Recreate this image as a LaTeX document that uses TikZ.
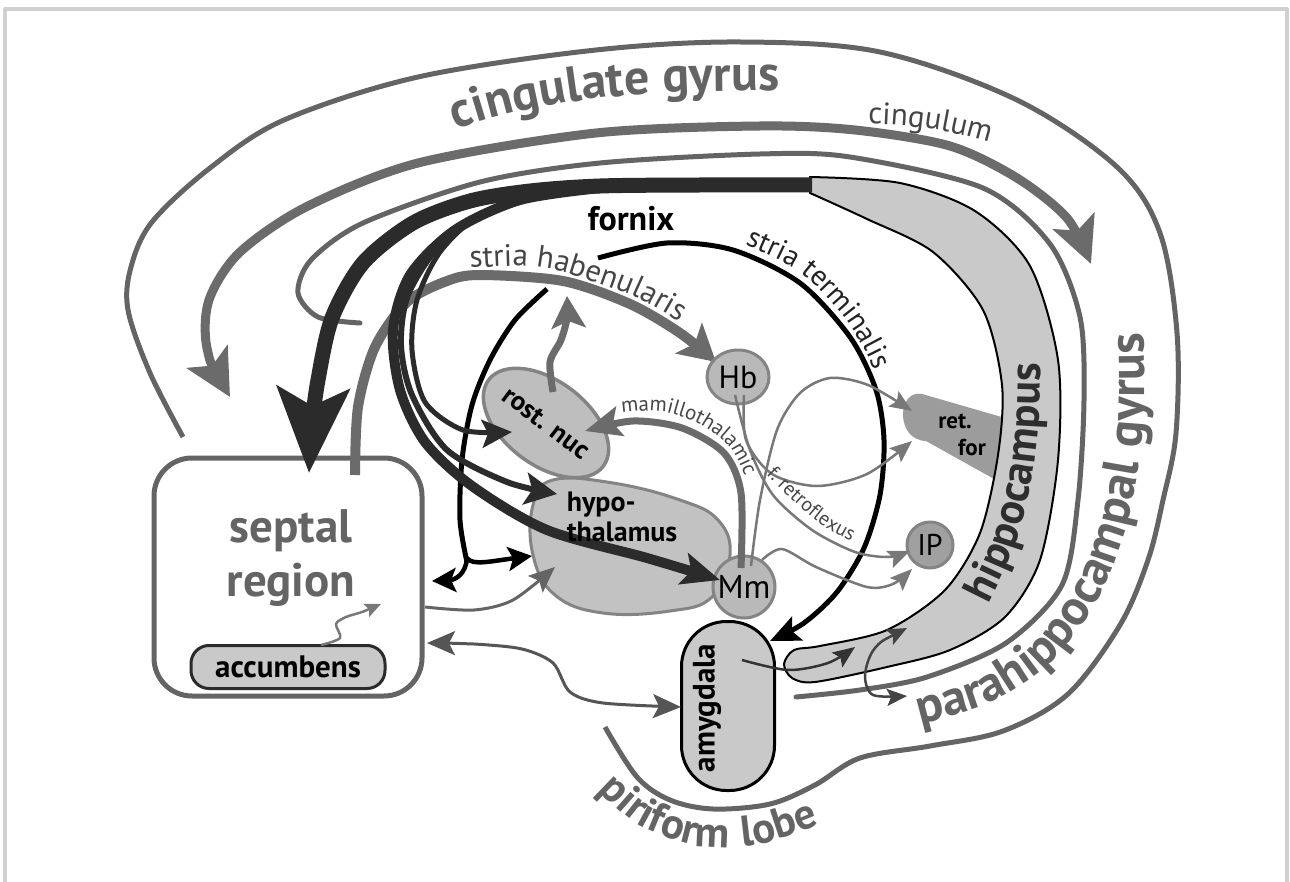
\documentclass[tikz,border=0pt]{standalone}
\usepackage{fontspec}
\setmainfont{PT Sans}
\usetikzlibrary{arrows.meta,decorations.text,shapes.geometric}
\definecolor{cFrame}{HTML}{D0D0D0}
\definecolor{cMid}{HTML}{646464}
\definecolor{cCing}{HTML}{6B6B6B}
\definecolor{cDark}{HTML}{2B2B2B}
\definecolor{cFill}{HTML}{C9C9C9}
\definecolor{cHyp}{HTML}{C2C2C2}
\definecolor{cNode}{HTML}{B9B9B9}
\definecolor{cBord}{HTML}{848484}
\definecolor{cIP}{HTML}{A0A0A0}
\definecolor{cRF}{HTML}{9C9C9C}
\definecolor{cThin}{HTML}{787878}
\definecolor{cTxt}{HTML}{454545}
\definecolor{cRost}{HTML}{BEBEBE}
\definecolor{cHip}{HTML}{2E2E2E}
\definecolor{cTT}{HTML}{222222}
\definecolor{cA}{HTML}{333333}
\definecolor{cB}{HTML}{444444}
\definecolor{cC}{HTML}{555555}
\newcommand{\myfs}[2]{\fontsize{#1}{#2}\selectfont}
\begin{document}
\begin{tikzpicture}[x=1pt,y=-1pt,line join=round,
  thinarrow/.style={draw=cThin, line width=2.5pt, -{Stealth[length=22pt,width=18pt,inset=4pt]}}]
\useasboundingbox (0,0) rectangle (1290,882);
\fill[white] (0,0) rectangle (1290,882);
\draw[cFrame, line width=4pt] (5,890) -- (5,9) -- (1287,9) -- (1287,890);

% outer boundary
\draw[cMid, line width=5pt] plot[smooth, tension=0.55] coordinates {(183,437) (150,373) (128,310) (131,267) (152,222) (210,168) (284,120) (418,77) (596,50) (740,42) (880,52) (1017,100) (1117,167) (1160,233) (1177,333) (1176,433) (1163,500) (1148,560) (1120,625) (1068,694) (1003,731) (930,746) (860,758) (815,785) (770,804) (713,809) (670,800) (637,777) (605,727)};

% cingulum
\draw[cCing, line width=9pt, {Stealth[length=46pt,width=46pt,inset=10pt]}-{Stealth[length=46pt,width=44pt,inset=10pt]}] plot[smooth] coordinates {(230,397) (207,348) (209,300) (239,253) (306,207) (418,163) (596,133) (760,126) (855,130) (950,146) (1017,178) (1067,218) (1091,264)};

% inner gray line
\draw[cMid, line width=5pt, line cap=round] plot[smooth] coordinates {(360,323) (318,317) (298,293) (311,260) (363,223) (480,182) (600,163) (760,154) (850,157) (983,188) (1050,244) (1080,317) (1084,400) (1078,500) (1062,585) (1006,643) (927,677) (860,690) (796,697)};

% ret. for
\fill[cRF] (1012,420) -- (922,394) .. controls (897,389) and (895,440) .. (926,441) -- (1012,489) -- cycle;

% hippocampus band
\draw[fill=cFill, line width=2pt] plot[smooth, tension=0.5] coordinates {(810,177) (900,183) (975,211) (1030,266) (1058,360) (1058,460) (1040,560) (1005,617) (950,650) (887,667) (815,682) (792,678) (784,664) (794,650) (820,646) (887,630) (945,590) (980,533) (998,455) (1002,385) (983,310) (933,252) (867,219) (810,193)} -- cycle;

% big labels along paths
\path[decorate, decoration={text along path, text color=cMid, text={|\bfseries\myfs{50}{50}|cingulate gyrus}}] (456,130) .. controls (560,92) and (690,84) .. (920,96);
\path[decorate, decoration={text along path, text color=cMid, text={|\bfseries\myfs{50}{50}\addfontfeatures{LetterSpace=4}|parahippocampal gyrus}}] plot[smooth] coordinates {(920,724) (992,702) (1052,662) (1095,604) (1120,548) (1134,492) (1143,431) (1143,333) (1128,245) (1100,180) (1060,130)};
\path[decorate, decoration={text along path, text color=cHip, text={|\bfseries\myfs{44}{44}\addfontfeatures{LetterSpace=3}|hippocampus}}] plot[smooth] coordinates {(988,604) (1012,553) (1029,495) (1038,430) (1040,360) (1034,300) (1017,240) (990,200)};
\path[decorate, decoration={text along path, text color=cMid, text={|\bfseries\myfs{43}{43}\addfontfeatures{LetterSpace=6}|piriform lobe}}] plot[smooth] coordinates {(598,790) (640,826) (700,846) (760,844) (820,824) (870,792) (900,760)};
\path[decorate, decoration={text along path, text color=cTxt, text={|\myfs{31}{31}|cingulum}}] (868,124) .. controls (920,125) and (965,132) .. (1030,156);

% septal region
\node[draw=cMid, line width=5pt, rounded corners=38pt, minimum width=268pt, minimum height=238pt, inner sep=0pt] (septal) at (288,577) {};
\node[text=cMid, font=\bfseries\myfs{47}{54}, align=center, inner sep=0pt] (septaltxt) at (291,558) {septal\\region};
\node[draw=cDark, fill=cFill, line width=3pt, rounded corners=18pt, minimum width=194pt, minimum height=43pt, inner sep=0pt, font=\bfseries\myfs{31}{31}] (acc) at (288,667) {accumbens};

% stria terminalis (black)
\draw[black, line width=5pt] plot[smooth] coordinates {(467,562) (460,520) (462,460) (472,405) (490,360) (515,320) (547,289)};
\draw[black, line width=5pt, -{Stealth[length=30pt,width=26pt,inset=6pt]}] plot[smooth] coordinates {(598,258) (667,243) (733,250) (800,283) (850,337) (876,390) (884,440) (880,495) (864,548) (837,592) (804,623) (770,641)};
\draw[black, line width=4.5pt, -{Stealth[length=24pt,width=24pt,inset=5pt]}] (467,558) .. controls (466,574) and (455,580) .. (432,581);
\draw[black, line width=4.5pt, -{Stealth[length=24pt,width=24pt,inset=5pt]}] (467,558) .. controls (472,566) and (492,561) .. (532,556);

% stria habenularis
\draw[cCing, line width=10pt, -{Stealth[length=36pt,width=40pt,inset=8pt]}] plot[smooth] coordinates {(355,475) (358,407) (375,347) (407,302) (447,281) (480,275) (563,281) (630,304) (680,333) (716,362)};
\path[decorate, decoration={text along path, text color=cTxt, text={|\myfs{31}{31}|stria habenularis}}] plot[smooth] coordinates {(470,268) (520,266) (563,272) (630,295) (680,322) (730,355)};

% nuclei
\node[ellipse, draw=cBord, fill=cRost, line width=3.5pt, minimum width=138pt, minimum height=84pt, inner sep=0pt, rotate=-37, font=\bfseries\myfs{27}{27}] (rost) at (546,423) {rost. nuc};
\draw[fill=cHyp, draw=cBord, line width=3pt] plot[smooth cycle, tension=0.7] coordinates {(553,480) (613,483) (680,500) (718,520) (730,555) (712,597) (670,611) (603,613) (555,595) (533,555) (533,505)};
\node[ellipse, draw=cBord, fill=cNode, line width=3pt, minimum width=62pt, minimum height=54pt, inner sep=0pt, font=\myfs{32}{32}] (Hb) at (738,377) {Hb};
\node[circle, draw=cBord, fill=cNode, line width=3pt, minimum size=62pt, inner sep=0pt, font=\myfs{33}{33}] (Mm) at (744,587) {Mm};
\node[circle, draw=cBord, fill=cIP, line width=3pt, minimum size=46pt, inner sep=0pt, font=\myfs{30}{30}] (IP) at (930,545) {IP};
\node[draw=black, fill=cFill, line width=3pt, rounded corners=45pt, minimum width=93pt, minimum height=169pt, inner sep=0pt] (amyg) at (728,706) {};
\node[rotate=90, font=\bfseries\myfs{31}{31}, inner sep=0pt] (amygtxt) at (707,708) {amygdala};

% fornix
\draw[cDark, line width=15pt, -{Stealth[length=85pt,width=72pt,inset=18pt]}] plot[smooth] coordinates {(812,185) (700,185) (600,186) (530,191) (470,201) (413,223) (363,263) (332,318) (318,380) (312,425) (309,473)};
\draw[cDark, line width=10pt, -{Stealth[length=38pt,width=32pt,inset=8pt]}] plot[smooth] coordinates {(600,188) (520,200) (455,230) (410,275) (393,330) (400,390) (425,442) (472,486) (547,530) (647,558) (720,580)};
\draw[cDark, line width=6pt, -{Stealth[length=32pt,width=32pt,inset=7pt]}] plot[smooth] coordinates {(560,192) (490,210) (440,245) (408,295) (401,345) (412,395) (447,450) (507,482) (557,494)};
\draw[cDark, line width=5pt, -{Stealth[length=30pt,width=28pt,inset=6pt]}] plot[smooth] coordinates {(540,195) (480,215) (440,252) (417,300) (412,350) (425,402) (463,430) (512,432)};
\node[font=\bfseries\myfs{34}{34}, inner sep=0pt] (fornix) at (631,219) {fornix};
\node[font=\bfseries\myfs{28}{30}, align=left, inner sep=0pt] (hyp) at (622,517) {hypo-\\thalamus};

% mamillothalamic and rost. nuc output
\draw[cCing, line width=7pt, -{Stealth[length=36pt,width=30pt,inset=7pt]}] plot[smooth] coordinates {(741,568) (741,493) (724,453) (682,428) (633,421) (585,431)};
\draw[cCing, line width=7pt, -{Stealth[length=32pt,width=34pt,inset=7pt]}] plot[smooth] coordinates {(553,392) (550,362) (561,340) (567,318) (567,296)};

% thin connectors
\draw[thinarrow] plot[smooth] coordinates {(744,395) (746,440) (772,474) (817,486) (867,474) (912,441)};
\draw[thinarrow] plot[smooth] coordinates {(751,566) (760,500) (777,430) (800,393) (830,378) (868,385) (912,411)};
\draw[thinarrow] plot[smooth] coordinates {(735,395) (750,450) (773,495) (812,530) (855,552) (888,557) (910,551)};
\draw[thinarrow] plot[smooth] coordinates {(762,560) (782,549) (816,567) (867,587) (893,584) (912,569)};

% septal outputs
\draw[cMid, line width=3pt, -{Stealth[length=26pt,width=22pt,inset=5pt]}] plot[smooth] coordinates {(425,607) (474,610) (513,600) (555,567)};
\draw[cC, line width=3pt, {Stealth[length=28pt,width=24pt,inset=6pt]}-{Stealth[length=28pt,width=24pt,inset=6pt]}] plot[smooth] coordinates {(427,643) (474,644) (522,649) (553,663) (570,692) (603,703) (681,707)};
\draw[cThin, line width=2.5pt, -{Stealth[length=16pt,width=14pt,inset=3pt]}] plot[smooth] coordinates {(321,645) (340,638) (336,624) (346,617) (362,612) (381,604)};

% amygdala outputs
\draw[cA, line width=2.5pt, -{Stealth[length=22pt,width=18pt,inset=4pt]}] plot[smooth] coordinates {(742,660) (788,670) (828,663) (855,647)};
\draw[cB, line width=2.5pt, {Stealth[length=20pt,width=17pt,inset=4pt]}-{Stealth[length=20pt,width=17pt,inset=4pt]}] plot[smooth] coordinates {(907,628) (875,648) (865,675) (873,695) (907,696)};

% small labels
\node[font=\bfseries\myfs{23}{23}, inner sep=0pt] (ret) at (955,421) {ret.};
\node[font=\bfseries\myfs{23}{23}, inner sep=0pt] (for) at (972,448) {for};
\path[decorate, decoration={text along path, text color=cTT, text={|\myfs{29}{29}|stria terminalis}}] plot[smooth] coordinates {(745,245) (800,272) (845,318) (872,365) (885,410) (890,450)};
\path[decorate, decoration={text along path, text color=cTxt, text={|\myfs{21}{21}|mamillothalamic}}] plot[smooth] coordinates {(622,413) (660,411) (700,424) (731,449) (750,490) (757,525)};
\path[decorate, decoration={text along path, text color=cTxt, text={|\myfs{20}{20}|f. retroflexus}}] plot[smooth] coordinates {(766,474) (788,496) (822,525) (862,546) (895,552)};
\end{tikzpicture}
\end{document}
